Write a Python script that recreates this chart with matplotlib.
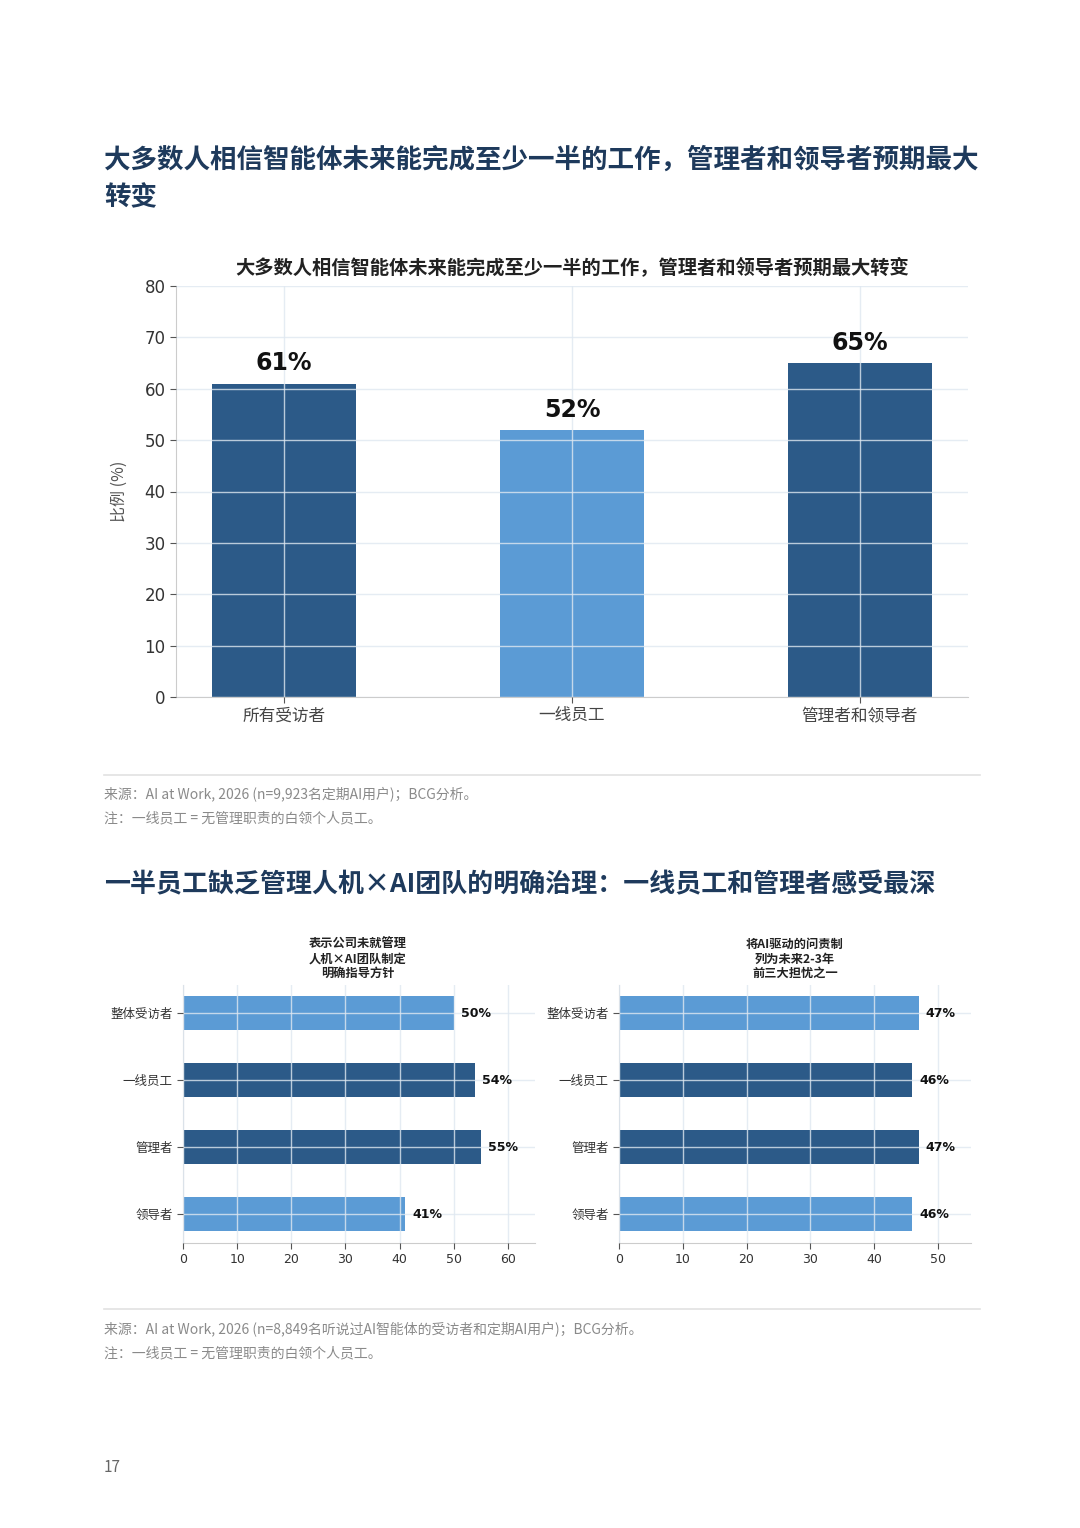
import matplotlib
matplotlib.use("Agg")
import matplotlib.pyplot as plt

plt.rcParams["font.family"] = ["DejaVu Sans", "Noto Sans CJK SC"]

W, H = 1080, 1528

# chart 1
groups1 = ["所有受访者", "一线员工", "管理者和领导者"]
values1 = [61, 52, 65]
# chart 2
groups2 = ["整体受访者", "一线员工", "管理者", "领导者"]
values2a = [50, 54, 55, 41]
values2b = [47, 46, 47, 46]

DARK = "#2c5a88"
LIGHT = "#5b9bd5"
NAVY = "#1e3a5c"
GRAY = "#8a8a8a"
colors1 = [DARK, LIGHT, DARK]
colors2 = [LIGHT, DARK, DARK, LIGHT]

title1 = "大多数人相信智能体未来能完成至少一半的工作，管理者和领导者预期最大"
title1b = "转变"
chart1_title = "大多数人相信智能体未来能完成至少一半的工作，管理者和领导者预期最大转变"
title2 = "一半员工缺乏管理人机×AI团队的明确治理：一线员工和管理者感受最深"
sub2a = "表示公司未就管理\n人机×AI团队制定\n明确指导方针"
sub2b = "将AI驱动的问责制\n列为未来2-3年\n前三大担忧之一"
src1 = "来源：AI at Work, 2026 (n=9,923名定期AI用户)；BCG分析。"
src2 = "来源：AI at Work, 2026 (n=8,849名听说过AI智能体的受访者和定期AI用户)；BCG分析。"
note = "注：一线员工 = 无管理职责的白领个人员工。"

CJK = ["Noto Sans CJK SC", "DejaVu Sans"]


def rect(l, t, r, b):
    return [l / W, 1 - b / H, (r - l) / W, (b - t) / H]


def px(x, y):
    return x / W, 1 - y / H


def style(ax):
    for s in ("top", "right"):
        ax.spines[s].set_visible(False)
    for s in ("left", "bottom"):
        ax.spines[s].set_color("#cccccc")
    ax.set_axisbelow(False)
    ax.grid(True, color="#dfe8f1", linewidth=1.0, alpha=0.8)
    ax.tick_params(colors="#333333", length=4, color="#555555")


fig = plt.figure(figsize=(W / 100, H / 100), dpi=100)
fig.patch.set_facecolor("white")

# page headings
fig.text(*px(104, 160), title1, fontsize=19.1, fontweight="bold", color=NAVY,
         family=CJK, va="center")
fig.text(*px(104, 198), title1b, fontsize=19.1, fontweight="bold", color=NAVY,
         family=CJK, va="center")

# chart 1
ax1 = fig.add_axes(rect(176, 286, 968, 697))
ax1.bar(range(len(groups1)), values1, width=0.5, color=colors1)
ax1.set_xlim(-0.375, 2.375)
ax1.set_ylim(0, 80)
style(ax1)
ax1.set_xticks(range(len(groups1)))
ax1.set_xticklabels(groups1, family=CJK, fontsize=12, color="#444444")
ax1.tick_params(axis="y", labelsize=12)
ax1.set_ylabel("比例 (%)", family=CJK, fontsize=11.5, color="#555555", labelpad=12)
for i, v in enumerate(values1):
    ax1.annotate(f"{v}%", (i, v), xytext=(0, 6), textcoords="offset points",
                 ha="center", va="bottom", fontsize=17, fontweight="bold",
                 color="#111111")
fig.text(*px(572, 267), chart1_title, fontsize=13.9, fontweight="bold",
         color="#222222", family=CJK, ha="center", va="center")

# separator + notes 1
fig.add_artist(plt.Line2D([104 / W, 980 / W], [1 - 775 / H] * 2, color="#e2e2e2", lw=1.2))
fig.text(*px(104, 795), src1, fontsize=10, color=GRAY, family=CJK, va="center")
fig.text(*px(104, 818), note, fontsize=10, color=GRAY, family=CJK, va="center")

# heading 2
fig.text(*px(104, 885), title2, fontsize=18.7, fontweight="bold", color=NAVY,
         family=CJK, va="center")


def hbar(ax, vals, xmax, ticks):
    ypos = list(range(len(groups2)))
    ax.barh(ypos, vals, height=0.5, color=colors2)
    ax.set_ylim(len(groups2) - 1 + 0.43, -0.42)
    ax.set_xlim(0, xmax)
    style(ax)
    ax.set_yticks(ypos)
    ax.set_yticklabels(groups2, family=CJK, fontsize=9, color="#333333")
    ax.set_xticks(ticks)
    ax.tick_params(axis="x", labelsize=9)
    for y, v in zip(ypos, vals):
        ax.annotate(f"{v}%", (v, y), xytext=(5, 0), textcoords="offset points",
                    ha="left", va="center", fontsize=9, fontweight="bold",
                    color="#111111")


ax2 = fig.add_axes(rect(183, 985, 535, 1243))
hbar(ax2, values2a, 65, range(0, 61, 10))
fig.text(*px(358, 959), sub2a, fontsize=8.8, fontweight="bold", color="#222222",
         family=CJK, ha="center", va="center", linespacing=1.15)

ax3 = fig.add_axes(rect(619, 985, 971, 1243))
hbar(ax3, values2b, 55.2, range(0, 51, 10))
fig.text(*px(795, 959), sub2b, fontsize=8.8, fontweight="bold", color="#222222",
         family=CJK, ha="center", va="center", linespacing=1.15)

# separator + notes 2
fig.add_artist(plt.Line2D([104 / W, 980 / W], [1 - 1309 / H] * 2, color="#e2e2e2", lw=1.2))
fig.text(*px(104, 1330), src2, fontsize=10, color=GRAY, family=CJK, va="center")
fig.text(*px(104, 1353), note, fontsize=10, color=GRAY, family=CJK, va="center")

fig.text(*px(104, 1468), "17", fontsize=11, color="#666666", family=CJK, va="center")

fig.savefig("out.png", dpi=100)
